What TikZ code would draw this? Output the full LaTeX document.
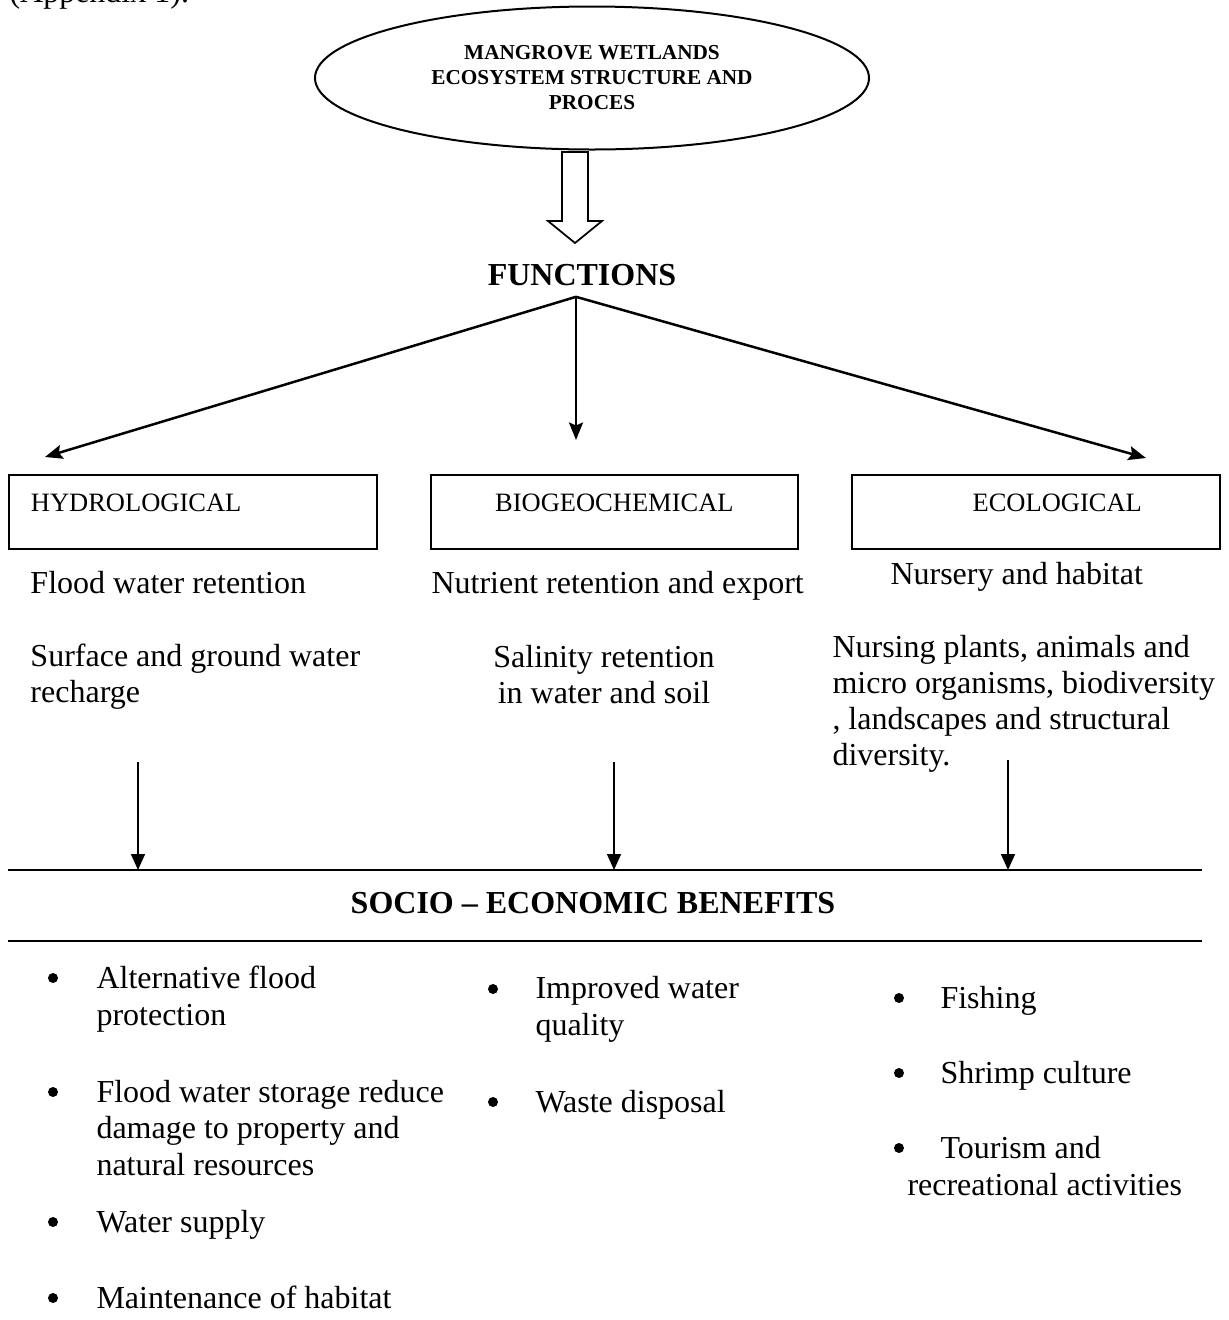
\documentclass[tikz,border=0pt]{standalone}
\usepackage{fontspec}
\setmainfont{Liberation Serif}
\usetikzlibrary{arrows.meta,shapes.geometric}
\tikzset{
  desc/.style={font=\fontsize{12.8}{14.4}\selectfont,inner sep=0pt,align=left,anchor=base west},
  item/.style={desc,font=\fontsize{12.8}{14.6}\selectfont},
  head/.style={font=\fontsize{12.8}{14}\bfseries\selectfont,inner sep=0pt,anchor=base},
  fnbox/.style={draw,line width=0.7pt,inner ysep=0pt,text height=14.8pt,text depth=14.8pt,font=\fontsize{10.6}{12}\selectfont,anchor=north west},
  fork/.style={line width=1pt,-{Stealth[length=7pt,width=5.6pt,inset=1.2pt]}},
  drop/.style={line width=0.6pt,-{Triangle[length=6.4pt,width=5.6pt]}},
  rule/.style={line width=0.8pt}
}
\begin{document}
\begin{tikzpicture}[x=0.4pt,y=-0.4pt]
    %\draw[help lines] (0,0) grid (1228,1320);
       \useasboundingbox (0,0) rectangle (1228,1320);
       \node[desc] (appx) at (9,2) {(Appendix 1).};
       \node[draw,ellipse,line width=0.8pt,minimum width=221.6pt,minimum height=57.2pt,inner sep=0pt,align=center,font=\fontsize{8.5}{10}\bfseries\selectfont] (mwe) at (592,78) {MANGROVE WETLANDS\\ECOSYSTEM STRUCTURE AND\\PROCES};
       \draw[line width=0.7pt,fill=white] (562,152) -- (562,221) -- (548,221) -- (575,243) -- (602,221) -- (588,221) -- (588,152) -- cycle;
       \node[head] (func) at (582,285) {FUNCTIONS};
       \coordinate (split) at ([yshift=-4.4pt]func.south -| 576,0);
       \coordinate (hydtip) at (45,457);
       \coordinate (biotip) at (576,440);
       \coordinate (ecotip) at (1146,458);
       \draw[fork] (split) -- (hydtip);
       \draw[fork] (split) -- (biotip);
       \draw[fork] (split) -- (ecotip);
       \node[fnbox,inner xsep=8.8pt,text width=129.6pt,align=left] (hydro) at (8,474) {HYDROLOGICAL};
       \node[fnbox,inner xsep=4pt,text width=138.8pt,align=center] (biogeo) at (430,474) {BIOGEOCHEMICAL};
       \node[fnbox,inner xsep=31.2pt,text width=84.8pt,align=right] (ecol) at (851,474) {ECOLOGICAL};
       % multi-line nodes sit on their last baseline
       \node[desc] (flood) at (30,593) {Flood water retention};
       \node[desc] (nutr) at (431,593) {Nutrient retention and export};
       \node[desc] (nurs) at (890,584) {Nursery and habitat};
       \node[desc] (surf) at (30,702) {Surface and ground water\\recharge};
       \node[desc,align=center,anchor=base] (salin) at (604,703) {Salinity retention\\in water and soil};
       \node[desc] (nursing) at (832,765) {Nursing plants, animals and\\micro organisms, biodiversity\\, landscapes and structural\\diversity.};
       \coordinate (hydout) at (138,762);
       \coordinate (bioout) at (614,762);
       \coordinate (ecoout) at (1008,760);
       \coordinate (ruleL) at (8,870);
       \coordinate (ruleR) at (1202,870);
       \draw[drop] (hydout) -- (hydout |- ruleL);
       \draw[drop] (bioout) -- (bioout |- ruleL);
       \draw[drop] (ecoout) -- (ecoout |- ruleL);
       \draw[rule] (ruleL) -- (ruleR);
       \node[head] (socio) at (593,913) {SOCIO – ECONOMIC BENEFITS};
       \draw[rule] (8,941) -- (1202,941);
       \foreach \bx/\by in {53/978,53/1092,53/1222,53/1298,493/989,493/1102,899/998,899/1073,899/1148}
         \fill (\bx,\by) circle (2pt);
       \node[item] (altflood) at (96,1025) {Alternative flood\\protection};
       \node[item] (storage) at (96,1175) {Flood water storage reduce\\damage to property and\\natural resources};
       \node[item] (supply) at (96,1232) {Water supply};
       \node[item] (habitat) at (96,1308) {Maintenance of habitat};
       \node[item] (quality) at (535,1035) {Improved water\\quality};
       \node[item] (waste) at (535,1112) {Waste disposal};
       \node[item] (fishing) at (940,1008) {Fishing};
       \node[item] (shrimp) at (940,1083) {Shrimp culture};
       \node[item] (tourism) at (907,1195) {\hspace*{13.2pt}Tourism and\\recreational activities};
\end{tikzpicture}
\end{document}
